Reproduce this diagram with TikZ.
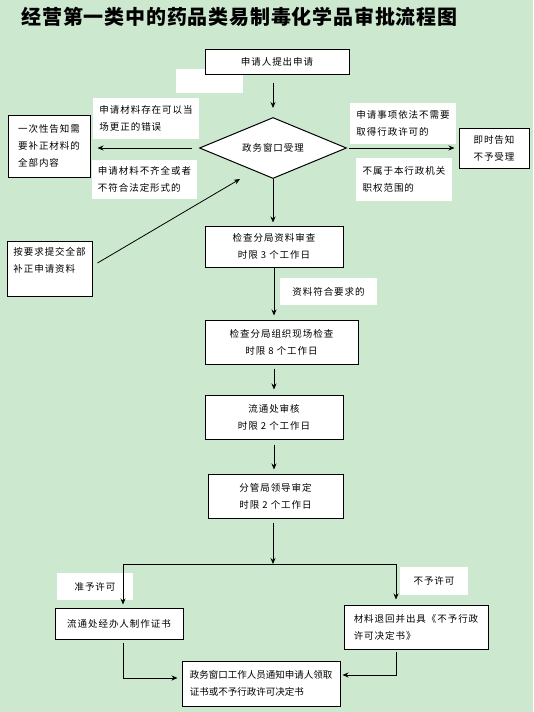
\documentclass[tikz,border=0pt]{standalone}
\usepackage{fontspec}
\usepackage{tikz}
\usetikzlibrary{positioning, arrows.meta, calc, shapes.geometric}
\newfontfamily\cjk{Noto Sans CJK SC}[LetterSpace=10]
\newfontfamily\cjktight{Noto Sans CJK SC}
\newfontfamily\cjktitle{Noto Sans CJK SC}[LetterSpace=4]
\definecolor{eyegreen}{HTML}{CCE8CF}

\begin{document}
\begin{tikzpicture}[
  x=1pt, y=-1pt,
  box/.style={draw, fill=white, line width=1pt, inner sep=0pt,
              font=\cjk\fontsize{9.5}{17}\selectfont, align=center},
  note/.style={fill=white, inner sep=0pt,
               font=\cjk\fontsize{9.5}{17}\selectfont, align=left},
  ar/.style={-{Stealth[length=6pt, width=5pt]}, line width=0.8pt},
]
  \fill[eyegreen] (0,0) rectangle (533,712);
  \useasboundingbox (0,0) rectangle (533,712);

  \node[anchor=west, font=\cjktitle\bfseries\fontsize{20}{20}\selectfont] (title) at (18,17)
    {经营第一类中的药品类易制毒化学品审批流程图};

  \fill[white] (176,69) rectangle (243,93);
  \node[box, minimum width=144pt, minimum height=25pt] (apply) at (277,61.5) {申请人提出申请};
  \node[diamond, draw, fill=white, line width=1pt, inner sep=0pt, shape aspect=2.4,
        minimum width=147pt, minimum height=61pt,
        font=\cjk\fontsize{9.5}{17}\selectfont] (accept) at (273,148) {政务窗口受理};

  \node[box, align=left, minimum width=82pt, minimum height=62pt] (inform) at (49,146)
    {一次性告知需\\要补正材料的\\全部内容};
  \node[note, minimum width=106pt, minimum height=41pt] (fixable) at (146,118.5)
    {申请材料存在可以当\\场更正的错误};
  \node[note, minimum width=105pt, minimum height=39pt] (incomplete) at (144.5,179.5)
    {申请材料不齐全或者\\不符合法定形式的};
  \node[note, minimum width=106pt, minimum height=41pt] (exempt) at (403,123.5)
    {申请事项依法不需要\\取得行政许可的};
  \node[note, minimum width=96pt, minimum height=43pt] (outside) at (404,179.5)
    {不属于本行政机关\\职权范围的};
  \node[box, minimum width=70pt, minimum height=40pt] (reject) at (494,148) {即时告知\\不予受理};

  \node[box, minimum width=138pt, minimum height=41pt] (review) at (274,246.5)
    {检查分局资料审查\\时限 3 个工作日};
  \node[box, align=left, minimum width=85pt, minimum height=55pt] (resub) at (49.5,268.5)
    {按要求提交全部\\补正申请资料\\\mbox{}};
  \node[note, minimum width=97pt, minimum height=27pt] (meets) at (328.5,291.5) {资料符合要求的};
  \node[box, minimum width=153pt, minimum height=44pt] (onsite) at (281.5,342)
    {检查分局组织现场检查\\时限 8 个工作日};
  \node[box, minimum width=138pt, minimum height=44pt] (circ) at (274,417)
    {流通处审核\\时限 2 个工作日};
  \node[box, minimum width=135pt, minimum height=44pt] (lead) at (275.5,496)
    {分管局领导审定\\时限 2 个工作日};

  \node[note, minimum width=76pt, minimum height=27pt] (yes) at (95,586.5) {准予许可};
  \node[note, minimum width=68pt, minimum height=28pt] (no) at (434,581) {不予许可};
  \node[box, minimum width=128pt, minimum height=31pt] (grant) at (119,623.5) {流通处经办人制作证书};
  \node[box, align=left, minimum width=144pt, minimum height=44pt] (refuse) at (416,627)
    {材料退回并出具《不予行政\\许可决定书》};
  \node[box, align=left, minimum width=158pt, minimum height=45pt,
        font=\cjktight\fontsize{9.5}{17}\selectfont] (final) at (261,683.5)
    {政务窗口工作人员通知申请人领取\\证书或不予行政许可决定书};

  \coordinate (backtip) at (240,179);
  \coordinate (fork) at (273,564);
  \coordinate (forkL) at (123,564);
  \coordinate (forkR) at (396,564);

  \draw[ar, shorten <=8pt, shorten >=9pt] (apply.south -| accept.north) -- (accept.north);
  \draw[ar, shorten <=7pt, shorten >=7pt] (accept.west) -- (accept.west -| inform.east);
  \draw[ar, shorten <=2pt, shorten >=4pt] (accept.east) -- (accept.east -| reject.west);
  \draw[ar, shorten >=3pt] (accept.south) -- (accept.south |- review.north);
  \draw[ar] ($(resub.east)+(5,-5.5)$) -- (backtip);
  \draw[ar, shorten >=4pt] (review.south) -- (review.south |- onsite.north);
  \draw[ar, shorten <=4pt, shorten >=5pt] (circ.north |- onsite.south) -- (circ.north);
  \draw[ar, shorten <=5pt, shorten >=4pt] (circ.south) -- (circ.south |- lead.north);
  \draw[ar, shorten <=4pt] (fork |- lead.south) -- (fork);
  \draw[line width=0.8pt] (forkL) -- (forkR);
  \draw[ar, shorten >=3pt] (forkL) -- (forkL |- grant.north);
  \draw[ar, shorten >=5pt] (forkR) -- (forkR |- refuse.north);
  \draw[ar, shorten <=3pt, shorten >=4pt] (forkL |- grant.south) |- ([yshift=5.5pt]final.west);
  \draw[ar, shorten <=2pt, shorten >=2pt] (forkR |- refuse.south) |- ([yshift=8.5pt]final.east);
\end{tikzpicture}
\end{document}
